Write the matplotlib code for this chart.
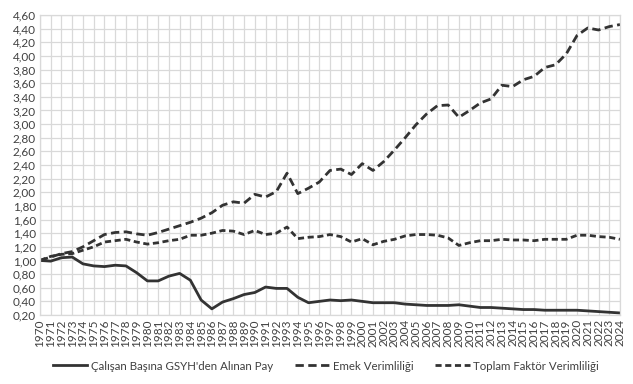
import matplotlib
matplotlib.use("Agg")
import matplotlib.pyplot as plt
from matplotlib.ticker import FuncFormatter, MultipleLocator

plt.rcParams['font.family'] = ['Lato', 'DejaVu Sans']

years = list(range(1970, 2025))

pay = [1.00, 0.99, 1.04, 1.05, 0.95, 0.92, 0.91, 0.93, 0.92, 0.82,
       0.70, 0.70, 0.77, 0.81, 0.71, 0.42, 0.29, 0.39, 0.44, 0.50,
       0.53, 0.61, 0.59, 0.59, 0.46, 0.38, 0.40, 0.42, 0.41, 0.42,
       0.40, 0.38, 0.38, 0.38, 0.36, 0.35, 0.34, 0.34, 0.34, 0.35,
       0.33, 0.31, 0.31, 0.30, 0.29, 0.28, 0.28, 0.27, 0.27, 0.27,
       0.27, 0.26, 0.25, 0.24, 0.23]

emek = [1.00, 1.05, 1.10, 1.13, 1.20, 1.29, 1.38, 1.41, 1.42, 1.39,
        1.37, 1.41, 1.46, 1.51, 1.56, 1.62, 1.70, 1.81, 1.86, 1.84,
        1.97, 1.93, 2.01, 2.28, 1.98, 2.06, 2.15, 2.32, 2.34, 2.26,
        2.42, 2.32, 2.45, 2.62, 2.80, 2.99, 3.15, 3.27, 3.28, 3.10,
        3.20, 3.31, 3.37, 3.57, 3.55, 3.65, 3.70, 3.83, 3.87, 4.03,
        4.30, 4.41, 4.38, 4.43, 4.46]

tfv = [1.00, 1.06, 1.09, 1.10, 1.15, 1.20, 1.27, 1.29, 1.31, 1.27,
       1.24, 1.26, 1.29, 1.31, 1.37, 1.37, 1.40, 1.44, 1.43, 1.38,
       1.44, 1.38, 1.40, 1.49, 1.32, 1.34, 1.35, 1.38, 1.35, 1.27,
       1.32, 1.23, 1.28, 1.31, 1.36, 1.38, 1.38, 1.37, 1.33, 1.22,
       1.26, 1.29, 1.29, 1.31, 1.30, 1.30, 1.29, 1.31, 1.31, 1.31,
       1.37, 1.37, 1.35, 1.34, 1.31]

labels = ["Çalışan Başına GSYH'den Alınan Pay", "Emek Verimliliği",
          "Toplam Faktör Verimliliği"]

W, H = 633, 384
fig = plt.figure(figsize=(W / 100, H / 100), dpi=100)
ax = fig.add_axes([40 / W, 1 - 315 / H, 580 / W, 300 / H])

color = '#333333'
x = list(range(len(years)))
l1, = ax.plot(x, pay, color=color, lw=2.0, solid_joinstyle='round', label=labels[0])
l2, = ax.plot(x, emek, color=color, lw=2.0, dashes=(3.0, 1.6), label=labels[1])
l3, = ax.plot(x, tfv, color=color, lw=2.0, dashes=(2.2, 1.3), label=labels[2])

ax.set_xlim(0, len(years) - 1)
ax.set_ylim(0.2, 4.6)
ax.set_xticks(x)
ax.set_xticklabels([str(y) for y in years], rotation=90, fontsize=8.5, color='#404040')
ax.yaxis.set_major_locator(MultipleLocator(0.2))
ax.yaxis.set_major_formatter(FuncFormatter(lambda v, p: f"{v:.2f}".replace('.', ',')))
for t in ax.get_yticklabels():
    t.set_fontsize(8.5)
    t.set_color('#404040')
ax.tick_params(length=0, pad=3)
ax.grid(True, color='#d9d9d9', lw=0.9)
ax.set_axisbelow(True)
for s in ax.spines.values():
    s.set_color('#d9d9d9')
    s.set_linewidth(0.9)

fig.legend(handles=[l1, l2, l3], loc='center', bbox_to_anchor=(326 / W, 1 - 366 / H),
           ncol=3, frameon=False, fontsize=8.3, handlelength=3.0, columnspacing=1.9,
           handletextpad=0.3, labelcolor='#404040')

fig.savefig('out.png', dpi=100)
